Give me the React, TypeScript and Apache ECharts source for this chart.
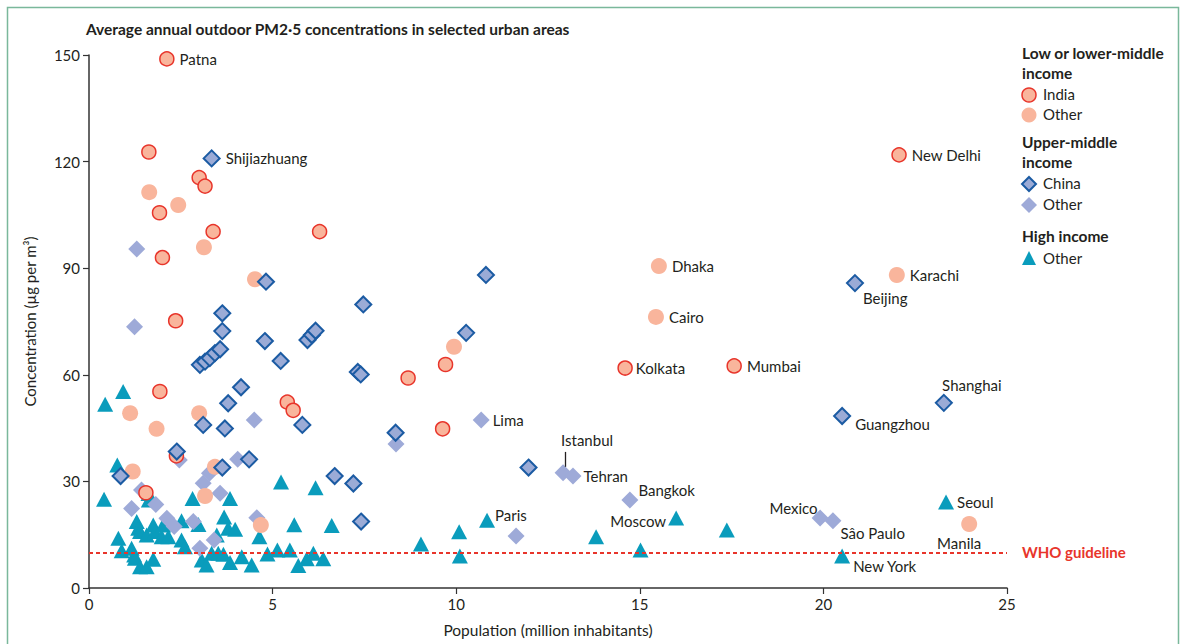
import React, { useEffect, useRef } from "react";
import * as echarts from "echarts";

type P = [number, number, string?];

// ---------- data (population in millions, PM2.5 µg/m³) ----------
const indiaPts: P[] = [
  [2.12, 148.9, "Patna"], [1.63, 122.7], [3.0, 115.5], [3.16, 113.1], [1.92, 105.6],
  [3.38, 100.3], [6.28, 100.3], [2.0, 93.0], [2.36, 75.2], [22.06, 121.9, "New Delhi"],
  [14.6, 61.9, "Kolkata"], [17.57, 62.5, "Mumbai"], [9.71, 62.9], [8.69, 59.1],
  [5.4, 52.3], [5.56, 50.0], [1.93, 55.3], [9.63, 44.8], [2.38, 37.2], [1.55, 26.8],
];

const lowOtherPts: P[] = [
  [1.64, 111.4], [2.43, 107.8], [3.13, 95.9], [4.52, 86.9], [22.0, 88.1, "Karachi"],
  [15.52, 90.6, "Dhaka"], [15.44, 76.3, "Cairo"], [9.94, 67.9], [1.12, 49.2], [1.84, 44.8],
  [3.0, 49.2], [1.19, 32.8], [3.16, 25.9], [3.43, 34.1], [4.68, 17.7], [23.97, 18.0, "Manila"],
];

const chinaPts: P[] = [
  [3.34, 120.9, "Shijiazhuang"], [4.82, 86.2], [7.47, 79.8], [3.63, 77.3], [10.81, 88.1],
  [10.27, 71.8], [20.86, 85.8, "Beijing"], [23.28, 52.1, "Shanghai"], [20.51, 48.4, "Guangzhou"],
  [3.63, 72.3], [4.79, 69.5], [5.95, 69.8], [6.07, 71.2], [6.17, 72.4], [3.02, 62.8],
  [3.16, 63.7], [3.29, 64.7], [3.43, 66.1], [3.57, 67.2], [5.22, 63.9], [7.32, 60.8],
  [7.4, 60.1], [4.14, 56.5], [3.79, 52.0], [3.11, 45.9], [3.7, 44.9], [5.81, 45.9],
  [8.35, 43.7], [2.39, 38.4], [0.86, 31.5], [3.63, 33.9], [4.36, 36.2], [6.69, 31.5],
  [7.2, 29.4], [11.97, 33.9], [7.41, 18.7],
];

const upperOtherPts: P[] = [
  [1.3, 95.4], [1.24, 73.5], [4.5, 47.3], [10.68, 47.3, "Lima"], [8.36, 40.5], [4.05, 36.2],
  [2.46, 36.0], [12.91, 32.4, "Istanbul"], [13.18, 31.5, "Tehran"], [14.73, 24.8, "Bangkok"],
  [19.91, 19.7, "Mexico"], [20.26, 18.9, "Sâo Paulo"], [11.63, 14.6], [1.43, 27.6],
  [1.16, 22.4], [1.82, 23.5], [3.11, 29.5], [3.28, 32.3], [3.57, 26.7], [4.57, 19.8],
  [2.84, 18.7], [2.32, 17.3], [2.12, 19.6], [3.41, 13.5], [3.02, 11.2],
];

const highPts: P[] = [
  [0.44, 51.7], [0.93, 55.3], [0.77, 34.6], [0.41, 25.0], [1.62, 26.6], [1.63, 24.8],
  [2.82, 25.2], [3.84, 25.2], [5.23, 29.8], [6.17, 28.2], [5.59, 17.8], [6.61, 17.6],
  [10.84, 19.1, "Paris"], [10.08, 15.8], [10.1, 9.0], [9.04, 12.4], [13.81, 14.4],
  [15.02, 10.7], [15.99, 19.7, "Moscow"], [17.37, 16.3], [20.51, 9.0, "New York"],
  [23.34, 24.2, "Seoul"],
  [0.8, 14.0], [0.89, 10.5], [1.16, 11.2], [1.23, 9.3], [1.25, 8.4], [1.39, 6.0],
  [1.57, 6.0], [1.75, 8.1], [1.3, 18.7], [1.34, 16.8], [1.39, 15.9], [1.57, 14.9],
  [1.75, 17.7], [1.8, 15.9], [1.98, 14.4], [2.02, 17.7], [2.16, 14.4], [2.52, 18.9],
  [2.98, 17.9], [2.52, 13.5], [2.61, 11.6], [3.07, 7.9], [3.2, 6.5], [3.34, 9.8],
  [3.52, 9.8], [3.66, 9.5], [3.84, 7.2], [4.16, 8.8], [4.43, 6.5], [3.68, 20.0],
  [3.79, 16.8], [3.98, 16.5], [3.48, 14.9], [4.64, 14.4], [4.86, 9.6], [5.13, 10.7],
  [5.47, 10.7], [5.7, 6.3], [5.93, 8.2], [6.11, 9.8], [6.38, 8.2],
];

const whoGuideline = 10;
const istanbulLeader: [number, number][] = [[12.96, 38.3], [12.96, 34.1]];

const xTicks = { min: 0, max: 25, interval: 5 };
const yTicks = { min: 0, max: 150, interval: 30 };

// ---------- label placement (styles, not data) ----------
const labelPlace: Record<string, { position: string; offset: [number, number] }> = {
  Patna: { position: "right", offset: [0, 0] },
  Shijiazhuang: { position: "right", offset: [0, 0] },
  "New Delhi": { position: "right", offset: [0, 0] },
  Dhaka: { position: "right", offset: [0, 0] },
  Karachi: { position: "right", offset: [0, 0] },
  Cairo: { position: "right", offset: [0, 0] },
  Kolkata: { position: "right", offset: [-2, 0] },
  Mumbai: { position: "right", offset: [0, 0] },
  Lima: { position: "right", offset: [-2, 0] },
  Tehran: { position: "right", offset: [-3, 0] },
  Seoul: { position: "right", offset: [-2, 0] },
  Beijing: { position: "right", offset: [-6, 15] },
  Guangzhou: { position: "right", offset: [-1, 8] },
  Shanghai: { position: "top", offset: [28, 4] },
  Istanbul: { position: "top", offset: [24, -12] },
  Bangkok: { position: "right", offset: [-5, -10] },
  Paris: { position: "right", offset: [-5, -5] },
  Moscow: { position: "left", offset: [3, 3] },
  Mexico: { position: "left", offset: [11, -10] },
  "Sâo Paulo": { position: "right", offset: [-6, 12] },
  Manila: { position: "bottom", offset: [-10, -2] },
  "New York": { position: "right", offset: [-2, 10] },
};

const FONT = 'Lato, "Open Sans", "Noto Sans", sans-serif';
const TXT = "#231f20";

function toData(pts: P[]) {
  return pts.map(([x, y, name]) => {
    if (!name) return { value: [x, y] };
    const lp = labelPlace[name];
    return {
      value: [x, y],
      name,
      label: {
        show: true,
        formatter: name,
        position: lp.position,
        offset: lp.offset,
        color: TXT,
        fontSize: 15,
        fontFamily: FONT,
      },
    };
  });
}

const C_PEACH = "#f9b59c";
const C_RED = "#e8352b";
const C_CHINA = "#9babd6";
const C_CHINA_B = "#1b5ba3";
const C_UMI = "#9eaad8";
const C_TRI = "#0a9cbc";

export default function App() {
  const ref = useRef<HTMLDivElement>(null);
  useEffect(() => {
    if (!ref.current) return;
    const chart = echarts.init(ref.current, undefined, { renderer: "svg" });

    const lx = 1029;
    const tx = 1043;
    const legendG: any[] = [
      { type: "text", left: 1022, top: 45, style: { text: "Low or lower-middle", font: `bold 15.5px ${FONT}`, fill: TXT } },
      { type: "text", left: 1022, top: 65, style: { text: "income", font: `bold 15.5px ${FONT}`, fill: TXT } },
      { type: "circle", shape: { cx: lx, cy: 95, r: 7 }, style: { fill: C_PEACH, stroke: C_RED, lineWidth: 1.5 } },
      { type: "text", left: tx, top: 86, style: { text: "India", font: `15px ${FONT}`, fill: TXT } },
      { type: "circle", shape: { cx: lx, cy: 115, r: 7.5 }, style: { fill: C_PEACH } },
      { type: "text", left: tx, top: 106, style: { text: "Other", font: `15px ${FONT}`, fill: TXT } },
      { type: "text", left: 1022, top: 134, style: { text: "Upper-middle", font: `bold 15.5px ${FONT}`, fill: TXT } },
      { type: "text", left: 1022, top: 154, style: { text: "income", font: `bold 15.5px ${FONT}`, fill: TXT } },
      { type: "polygon", shape: { points: [[lx, 177], [lx + 7, 184], [lx, 191], [lx - 7, 184]] }, style: { fill: C_CHINA, stroke: C_CHINA_B, lineWidth: 2 } },
      { type: "text", left: tx, top: 175, style: { text: "China", font: `15px ${FONT}`, fill: TXT } },
      { type: "polygon", shape: { points: [[lx, 197], [lx + 8, 205], [lx, 213], [lx - 8, 205]] }, style: { fill: C_UMI } },
      { type: "text", left: tx, top: 196, style: { text: "Other", font: `15px ${FONT}`, fill: TXT } },
      { type: "text", left: 1022, top: 228, style: { text: "High income", font: `bold 15.5px ${FONT}`, fill: TXT } },
      { type: "polygon", shape: { points: [[lx, 251], [lx + 7, 265], [lx - 7, 265]] }, style: { fill: C_TRI } },
      { type: "text", left: tx, top: 250, style: { text: "Other", font: `15px ${FONT}`, fill: TXT } },
    ];

    chart.setOption({
      animation: false,
      backgroundColor: "#ffffff",
      textStyle: { fontFamily: FONT },
      grid: { left: 89, right: 175, top: 55, bottom: 56, containLabel: false },
      graphic: [
        { type: "rect", shape: { x: 7.5, y: 7.5, width: 1171, height: 700 }, style: { fill: "none", stroke: "#7ab89b", lineWidth: 1.5 }, silent: true },
        { type: "text", left: 86, top: 21, style: { text: "Average annual outdoor PM2·5 concentrations in selected urban areas", font: `bold 15.5px ${FONT}`, fill: TXT } },
        ...legendG,
      ],
      xAxis: {
        type: "value",
        ...xTicks,
        name: "Population (million inhabitants)",
        nameLocation: "middle",
        nameGap: 34,
        nameTextStyle: { fontSize: 15.5, color: TXT, fontFamily: FONT },
        axisLine: { show: true, lineStyle: { color: "#333", width: 1.5 } },
        axisTick: { show: true, length: 6, lineStyle: { color: "#333", width: 1.2 } },
        axisLabel: { fontSize: 15, color: TXT, margin: 8, fontFamily: FONT },
        splitLine: { show: false },
      },
      yAxis: {
        type: "value",
        ...yTicks,
        name: "Concentration (µg per m³)",
        nameLocation: "middle",
        nameGap: 52,
        nameTextStyle: { fontSize: 15, color: TXT, fontFamily: FONT },
        axisLine: { show: true, lineStyle: { color: "#333", width: 1.5 } },
        axisTick: { show: true, length: 6, lineStyle: { color: "#333", width: 1.2 } },
        axisLabel: { fontSize: 15, color: TXT, margin: 9, fontFamily: FONT },
        splitLine: { show: false },
      },
      series: [
        {
          type: "scatter",
          name: "guide",
          data: [],
          z: 1,
          silent: true,
          markLine: {
            silent: true,
            symbol: "none",
            lineStyle: { color: "#e8352b", width: 2, type: [4, 3] },
            label: {
              show: true,
              position: "end",
              distance: 15,
              formatter: "WHO guideline",
              color: "#e8352b",
              fontWeight: "bold",
              fontSize: 15,
              fontFamily: FONT,
            },
            data: [{ yAxis: whoGuideline }],
          },
        },
        {
          type: "scatter",
          name: "High income – Other",
          data: toData(highPts),
          symbol: "triangle",
          symbolSize: [16, 15],
          itemStyle: { color: C_TRI, opacity: 1 },
          z: 2,
        },
        {
          type: "scatter",
          name: "Upper-middle – Other",
          data: toData(upperOtherPts),
          symbol: "diamond",
          symbolSize: 17,
          itemStyle: { color: C_UMI, opacity: 1 },
          z: 3,
          markLine: {
            silent: true,
            symbol: "none",
            label: { show: false },
            lineStyle: { color: "#231f20", width: 1.3, type: "solid" },
            data: [[{ coord: istanbulLeader[0] }, { coord: istanbulLeader[1] }]],
          },
        },
        {
          type: "scatter",
          name: "Low – Other",
          data: toData(lowOtherPts),
          symbol: "circle",
          symbolSize: 16,
          itemStyle: { color: C_PEACH, opacity: 1 },
          z: 4,
        },
        {
          type: "scatter",
          name: "India",
          data: toData(indiaPts),
          symbol: "circle",
          symbolSize: 14,
          itemStyle: { color: C_PEACH, borderColor: C_RED, borderWidth: 1.5, opacity: 1 },
          z: 5,
        },
        {
          type: "scatter",
          name: "China",
          data: toData(chinaPts),
          symbol: "diamond",
          symbolSize: 16,
          itemStyle: { color: C_CHINA, borderColor: C_CHINA_B, borderWidth: 2, opacity: 1 },
          z: 6,
        },
      ],
    });
    return () => chart.dispose();
  }, []);
  return (
    <div
      ref={ref}
      style={{ position: "absolute", left: 0, top: 0, width: 1182, height: 644 }}
    />
  );
}
